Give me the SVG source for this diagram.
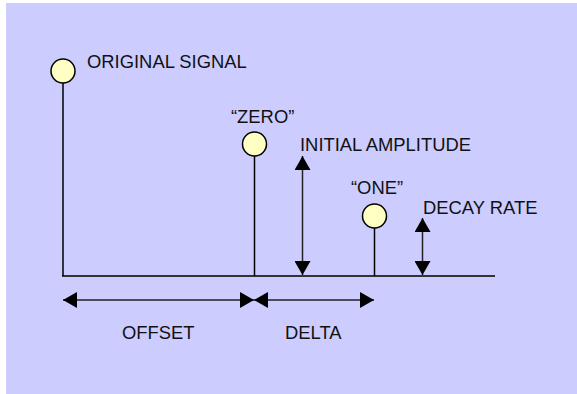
<svg xmlns="http://www.w3.org/2000/svg" width="577" height="394" viewBox="0 0 577 394">
  <defs>
    <marker id="ah" viewBox="0 0 14 16" refX="14" refY="8" markerWidth="14" markerHeight="16" markerUnits="userSpaceOnUse" orient="auto-start-reverse">
      <path d="M0,0 L14,8 L0,16 Z" fill="#000000"/>
    </marker>
  </defs>
  <style>
    text { font-family: "Liberation Sans", Arial, sans-serif; font-size: 18.4px; fill: #111111; }
    .sig { fill: #FFFFC4; stroke: #000000; stroke-width: 1.5; }
    .stem { stroke: #000000; stroke-width: 1.5; fill: none; }
    .base { stroke: #333333; stroke-width: 2; fill: none; }
    .dim { stroke: #222222; stroke-width: 1.5; fill: none; marker-start: url(#ah); marker-end: url(#ah); }
  </style>
  <rect x="6" y="3" width="571" height="391" fill="#CCCCFF"/>

  <g id="connectors">
    <line class="base" x1="62" y1="276" x2="495" y2="276"/>
    <line class="dim" x1="302.5" y1="156" x2="302.5" y2="275"/>
    <line class="dim" x1="422.5" y1="218" x2="422.5" y2="275"/>
    <line class="dim" x1="63" y1="300" x2="254" y2="300"/>
    <line class="dim" x1="254" y1="300" x2="374" y2="300"/>
  </g>

  <g id="original-signal">
    <line class="stem" x1="63" y1="83" x2="63" y2="276"/>
    <circle class="sig" cx="63" cy="71" r="12"/>
    <text x="87" y="68">ORIGINAL SIGNAL</text>
  </g>

  <g id="zero">
    <line class="stem" x1="254.5" y1="156" x2="254.5" y2="276"/>
    <circle class="sig" cx="254.5" cy="144" r="12"/>
    <text x="231" y="123">“ZERO”</text>
  </g>

  <g id="one">
    <line class="stem" x1="374.5" y1="228" x2="374.5" y2="276"/>
    <circle class="sig" cx="374.5" cy="216" r="12"/>
    <text x="351" y="194">“ONE”</text>
  </g>

  <g id="initial-amplitude">
    <text x="300" y="151">INITIAL AMPLITUDE</text>
  </g>

  <g id="decay-rate">
    <text x="423" y="214">DECAY RATE</text>
  </g>

  <g id="offset">
    <text x="122" y="339">OFFSET</text>
  </g>

  <g id="delta">
    <text x="285" y="339">DELTA</text>
  </g>
</svg>
